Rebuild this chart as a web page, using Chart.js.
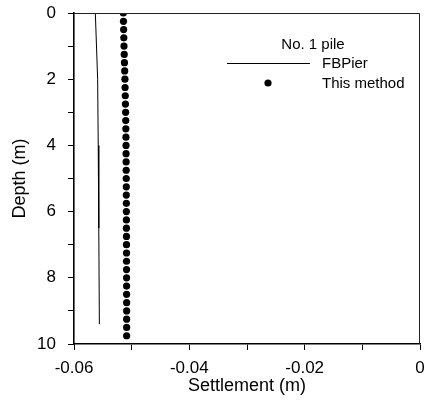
<!DOCTYPE html>
<html>
<head>
<meta charset="utf-8">
<script src="https://cdn.jsdelivr.net/npm/chart.js@4/dist/chart.umd.min.js"></script>
<style>
  html, body { margin: 0; padding: 0; background: #fff; }
  #wrap { width: 425px; height: 402px; }
</style>
</head>
<body>
<div id="wrap"><canvas id="myChart" width="425" height="402"></canvas></div>
<script>
// FBPier line (settlement, depth)
const fbpierSettlement = [-0.0563, -0.0559, -0.0558, -0.0557, -0.0556];
const fbpierDepth = [0, 2, 4, 6.5, 9.4];

// This method: points every 0.25 m
const methodDepth = [0, 0.25, 0.5, 0.75, 1, 1.25, 1.5, 1.75, 2, 2.25, 2.5, 2.75, 3, 3.25, 3.5, 3.75,
  4, 4.25, 4.5, 4.75, 5, 5.25, 5.5, 5.75, 6, 6.25, 6.5, 6.75, 7, 7.25, 7.5, 7.75, 8, 8.25, 8.5, 8.75,
  9, 9.25, 9.5, 9.75];
const methodSettlement = [-0.05145, -0.05142, -0.05139, -0.05136, -0.05133, -0.05129, -0.05125, -0.05121,
  -0.05117, -0.05114, -0.05111, -0.05108, -0.05105, -0.05103, -0.05101, -0.05099, -0.05098, -0.05097,
  -0.05096, -0.05095, -0.05094, -0.05093, -0.05093, -0.05092, -0.05092, -0.05091, -0.05091, -0.05090,
  -0.05090, -0.05089, -0.05089, -0.05089, -0.05088, -0.05088, -0.05088, -0.05087, -0.05087, -0.05087,
  -0.05087, -0.05087];

const xTickLabels = ['-0.06', '-0.04', '-0.02', '0'];
const yTickLabels = ['0', '2', '4', '6', '8', '10'];

const legendTitle = 'No. 1 pile';
const seriesNames = ['FBPier', 'This method'];

const FONT = "'Liberation Sans', Arial, sans-serif";

const toPts = (xs, ys) => xs.map((x, i) => ({ x: x, y: ys[i] }));

// box round the plot plus the little legend in the corner
const framePlugin = {
  id: 'frame',
  afterDraw(chart) {
    const { ctx, chartArea: a } = chart;
    ctx.save();
    ctx.strokeStyle = '#222';
    ctx.lineWidth = 1;
    ctx.beginPath();
    ctx.moveTo(a.left, a.top + 0.5);
    ctx.lineTo(a.right - 0.5, a.top + 0.5);
    ctx.lineTo(a.right - 0.5, a.bottom);
    ctx.stroke();

    ctx.fillStyle = '#000';
    ctx.font = '15px ' + FONT;
    ctx.textBaseline = 'middle';
    ctx.textAlign = 'center';
    ctx.fillText(legendTitle, 313, 45);
    ctx.textAlign = 'left';
    ctx.fillText(seriesNames[0], 322, 64);
    ctx.fillText(seriesNames[1], 322, 84);

    ctx.strokeStyle = '#000';
    ctx.beginPath();
    ctx.moveTo(227, 63.5);
    ctx.lineTo(310, 63.5);
    ctx.stroke();
    ctx.beginPath();
    ctx.arc(268, 83, 3.6, 0, Math.PI * 2);
    ctx.fill();
    ctx.restore();
  }
};

const ctx = document.getElementById('myChart').getContext('2d');
new Chart(ctx, {
  type: 'scatter',
  data: {
    datasets: [
      {
        label: seriesNames[0],
        data: toPts(fbpierSettlement, fbpierDepth),
        showLine: true,
        borderColor: '#000',
        borderWidth: 1,
        pointRadius: 0,
        tension: 0
      },
      {
        label: seriesNames[1],
        data: toPts(methodSettlement, methodDepth),
        showLine: false,
        backgroundColor: '#000',
        borderColor: '#000',
        pointRadius: 3.6,
        pointBorderWidth: 0
      }
    ]
  },
  options: {
    responsive: false,
    animation: false,
    layout: { padding: { left: 0, top: 13, right: 5, bottom: 0 } },
    plugins: {
      legend: { display: false },
      tooltip: { enabled: false }
    },
    scales: {
      x: {
        type: 'linear',
        min: -0.06,
        max: 0,
        afterFit(scale) {
          scale.height = 58;
          scale.paddingLeft = 0;
          scale.paddingRight = 0;
        },
        border: { display: true, color: '#000', width: 1.6 },
        grid: { drawOnChartArea: false, drawTicks: true, tickLength: 6, color: '#000' },
        ticks: {
          stepSize: 0.01,
          padding: 8,
          color: '#000',
          font: { family: FONT, size: 17 },
          maxRotation: 0,
          autoSkip: false,
          callback(v) {
            const k = Math.round(v * 100);
            if (k % 2 !== 0) return '';
            return xTickLabels[(k + 6) / 2];
          }
        },
        title: {
          display: true,
          text: 'Settlement (m)',
          color: '#000',
          font: { family: FONT, size: 18 },
          padding: { top: 0, bottom: 5 }
        }
      },
      y: {
        type: 'linear',
        reverse: true,
        min: 0,
        max: 10,
        afterFit(scale) {
          scale.width = 74;
          scale.paddingTop = 0;
          scale.paddingBottom = 0;
        },
        border: { display: true, color: '#000', width: 1.6 },
        grid: { drawOnChartArea: false, drawTicks: true, tickLength: 6, color: '#000' },
        ticks: {
          stepSize: 1,
          padding: 12,
          color: '#000',
          font: { family: FONT, size: 17 },
          autoSkip: false,
          callback(v) {
            const k = Math.round(v);
            if (k % 2 !== 0) return '';
            return yTickLabels[k / 2];
          }
        },
        title: {
          display: true,
          text: 'Depth (m)',
          color: '#000',
          font: { family: FONT, size: 18 },
          padding: { top: 9, bottom: 0 }
        }
      }
    }
  },
  plugins: [framePlugin]
});
</script>
</body>
</html>
